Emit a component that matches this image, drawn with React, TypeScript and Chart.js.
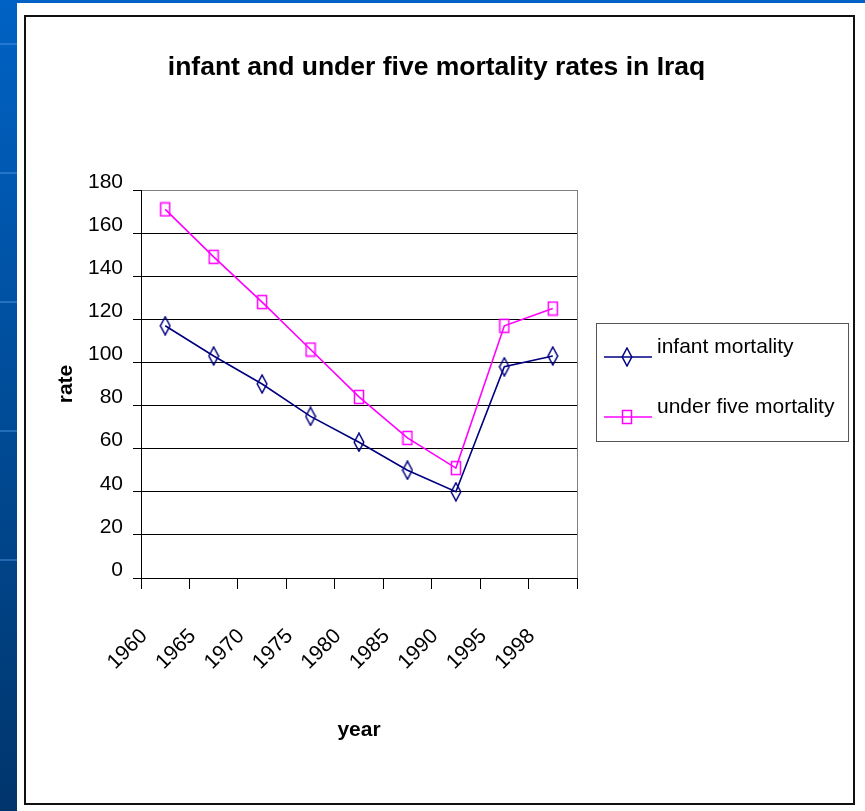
import React, { useEffect, useRef } from 'react';
import { Chart, registerables } from 'chart.js';

Chart.register(...registerables);

// ---- data ----
const YEARS = ['1960', '1965', '1970', '1975', '1980', '1985', '1990', '1995', '1998'];
const INFANT = [117, 103, 90, 75, 63, 50, 40, 98, 103];
const UNDER_FIVE = [171, 149, 128, 106, 84, 65, 51, 117, 125];
const SERIES_LABELS = ['infant mortality', 'under five mortality'];
const Y_MIN = 0;
const Y_MAX = 180;
const Y_STEP = 20;
const TITLE = 'infant and under five mortality rates in Iraq';
const X_TITLE = 'year';
const Y_TITLE = 'rate';

const FONT = "'Liberation Sans', Arial, Helvetica, sans-serif";
const NAVY = '#000080';
const MAGENTA = '#FF00FF';

function makeDiamond(): HTMLCanvasElement {
  const c = document.createElement('canvas');
  c.width = 12;
  c.height = 20;
  const g = c.getContext('2d')!;
  g.strokeStyle = NAVY;
  g.lineWidth = 1.5;
  g.beginPath();
  g.moveTo(6, 1);
  g.lineTo(10.8, 10);
  g.lineTo(6, 19);
  g.lineTo(1.2, 10);
  g.closePath();
  g.stroke();
  return c;
}

function makeSquare(): HTMLCanvasElement {
  const c = document.createElement('canvas');
  c.width = 12;
  c.height = 16;
  const g = c.getContext('2d')!;
  g.strokeStyle = MAGENTA;
  g.lineWidth = 1.5;
  g.strokeRect(1.5, 1.5, 9, 13);
  return c;
}

const plotFramePlugin = {
  id: 'plotFrame',
  beforeDatasetsDraw(chart: any) {
    const { ctx, chartArea } = chart;
    ctx.save();
    ctx.strokeStyle = '#808080';
    ctx.lineWidth = 1;
    const x = Math.round(chartArea.right) + 0.5;
    ctx.beginPath();
    ctx.moveTo(x, chartArea.top);
    ctx.lineTo(x, chartArea.bottom);
    ctx.stroke();
    ctx.restore();
  },
};

const sideLegendPlugin = {
  id: 'sideLegend',
  afterDraw(chart: any) {
    const { ctx, chartArea } = chart;
    const boxL = Math.round(chartArea.right) + 19;
    const boxT = 323;
    const boxW = 252;
    const boxH = 118;
    const rows = [357, 417];
    ctx.save();
    ctx.strokeStyle = '#555555';
    ctx.lineWidth = 1;
    ctx.strokeRect(boxL + 0.5, boxT + 0.5, boxW, boxH);
    chart.data.datasets.forEach((ds: any, i: number) => {
      const y = rows[i];
      ctx.strokeStyle = ds.borderColor;
      ctx.lineWidth = ds.borderWidth;
      ctx.beginPath();
      ctx.moveTo(boxL + 8, y);
      ctx.lineTo(boxL + 56, y);
      ctx.stroke();
      const img = ds.pointStyle as HTMLCanvasElement;
      ctx.drawImage(img, boxL + 31 - img.width / 2, y - img.height / 2);
      ctx.fillStyle = '#000';
      ctx.font = `21px ${FONT}`;
      ctx.textAlign = 'left';
      ctx.textBaseline = 'alphabetic';
      ctx.fillText(ds.label, boxL + 61, y - 4);
    });
    ctx.restore();
  },
};

export default function App() {
  const ref = useRef<HTMLCanvasElement | null>(null);

  useEffect(() => {
    if (!ref.current) return;
    const diamond = makeDiamond();
    const square = makeSquare();
    const chart = new Chart(ref.current, {
      type: 'line',
      data: {
        labels: YEARS,
        datasets: [
          {
            label: SERIES_LABELS[0],
            data: INFANT,
            borderColor: NAVY,
            backgroundColor: NAVY,
            borderWidth: 1.6,
            pointStyle: diamond as any,
            pointRadius: 5,
            tension: 0,
            fill: false,
          },
          {
            label: SERIES_LABELS[1],
            data: UNDER_FIVE,
            borderColor: MAGENTA,
            backgroundColor: MAGENTA,
            borderWidth: 1.6,
            pointStyle: square as any,
            pointRadius: 5,
            tension: 0,
            fill: false,
          },
        ],
      },
      options: {
        responsive: false,
        animation: false,
        devicePixelRatio: 1,
        events: [],
        layout: { padding: { left: 30, right: 22, top: 52, bottom: 51 } },
        plugins: {
          legend: { display: false },
          tooltip: { enabled: false },
          title: {
            display: true,
            text: TITLE,
            color: '#000',
            font: { family: FONT, size: 26.5, weight: 'bold' },
            padding: { top: 0, bottom: 106.2 },
          },
        },
        scales: {
          x: {
            type: 'category',
            offset: true,
            grid: {
              display: true,
              drawOnChartArea: false,
              drawTicks: true,
              tickLength: 11,
              offset: true,
              color: '#000',
            },
            border: { display: true, color: '#000', width: 1 },
            ticks: {
              autoSkip: false,
              minRotation: 45,
              maxRotation: 45,
              padding: 35,
              labelOffset: -21,
              color: '#000',
              font: { family: FONT, size: 21 },
            },
            title: {
              display: true,
              text: X_TITLE,
              color: '#000',
              font: { family: FONT, size: 21, weight: 'bold' },
              padding: { top: 0, bottom: 17.4 },
            },
            afterFit: (s: any) => {
              s.height = 182;
            },
          },
          y: {
            type: 'linear',
            min: Y_MIN,
            max: Y_MAX,
            grid: {
              color: (c: any) => (c.tick && c.tick.value === Y_MAX ? '#808080' : '#000'),
              tickColor: '#000',
              tickLength: 8,
              lineWidth: 1,
            },
            border: { display: true, color: '#000', width: 1 },
            ticks: {
              stepSize: Y_STEP,
              padding: 10,
              labelOffset: -8,
              color: '#000',
              font: { family: FONT, size: 21 },
            },
            title: {
              display: true,
              text: Y_TITLE,
              color: '#000',
              font: { family: FONT, size: 21, weight: 'bold' },
              padding: { top: 23.4, bottom: 0 },
            },
            afterFit: (s: any) => {
              s.width = 111;
            },
          },
          y2: {
            type: 'linear',
            position: 'right',
            display: true,
            min: 0,
            max: 1,
            grid: { display: false, drawTicks: false },
            border: { display: false },
            ticks: { display: false },
            afterFit: (s: any) => {
              s.width = 266;
            },
          },
        },
      } as any,
      plugins: [plotFramePlugin, sideLegendPlugin],
    });
    return () => chart.destroy();
  }, []);

  const bands = [43, 172, 301, 430, 559];

  return (
    <div
      style={{
        position: 'absolute',
        left: 0,
        top: 0,
        width: 865,
        height: 811,
        background: '#ffffff',
        overflow: 'hidden',
      }}
    >
      <div style={{ position: 'absolute', left: 0, top: 0, width: 865, height: 3, background: '#0062C4' }} />
      <div
        style={{
          position: 'absolute',
          left: 0,
          top: 0,
          width: 17,
          height: 811,
          background: 'linear-gradient(to bottom, #0062C4 0%, #004C98 50%, #00356C 100%)',
        }}
      />
      {bands.map((y) => (
        <div
          key={y}
          style={{
            position: 'absolute',
            left: 0,
            top: y,
            width: 17,
            height: 2,
            background: 'rgba(80,150,230,0.45)',
          }}
        />
      ))}
      <div
        style={{
          position: 'absolute',
          left: 24,
          top: 15,
          width: 831,
          height: 790,
          boxSizing: 'border-box',
          border: '2px solid #111',
        }}
      />
      <canvas
        ref={ref}
        width={865}
        height={811}
        style={{ position: 'absolute', left: 0, top: 0, width: 865, height: 811 }}
      />
    </div>
  );
}
